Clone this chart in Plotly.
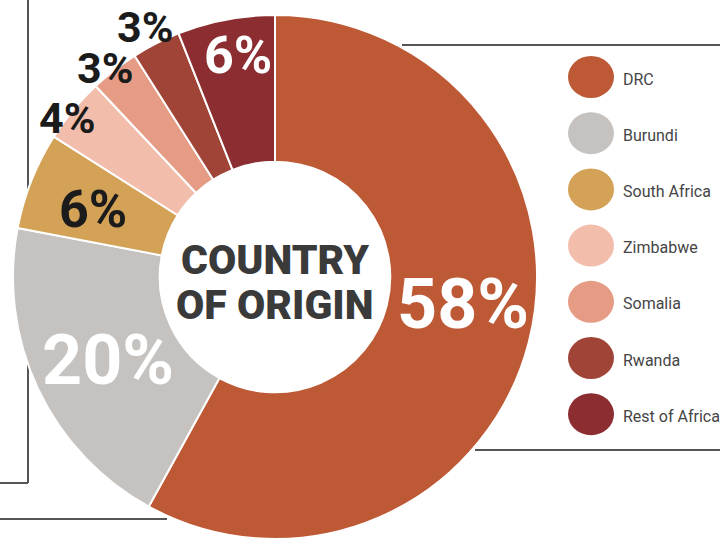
import math
import plotly.graph_objects as go

# Country of origin shares (percent)
countries = ["DRC", "Burundi", "South Africa", "Zimbabwe", "Somalia", "Rwanda", "Rest of Africa"]
shares = [58, 20, 6, 4, 3, 3, 6]
colors = ["#BD5A35", "#C5C2BF", "#D3A257", "#F3BDAC", "#E69C84", "#A04437", "#8C2D31"]

# Label styling per slice: radial position (fraction of outer radius),
# small angular nudge (deg), font size and colour
label_r = [0.725, 0.712, 0.741, 0.999, 1.027, 1.075, 0.859]
label_nudge = [-6.2, -1.2, -1.1, -2.2, -1.3, -0.5, 1.3]
label_size = [70, 70, 52, 43, 43, 43, 52]
label_color = ["#FFFFFF", "#FFFFFF", "#1B1B1B", "#1B1B1B", "#1B1B1B", "#1B1B1B", "#FFFFFF"]

W, H = 720, 539
CX, CY, R = 275, 277, 262
HOLE = 0.44

FONT = "Roboto, Liberation Sans, sans-serif"


def px_to_paper(x, y):
    return x / W, 1 - y / H


fig = go.Figure(
    go.Pie(
        labels=countries,
        values=shares,
        sort=False,
        direction="clockwise",
        rotation=0,
        hole=HOLE,
        marker=dict(colors=colors, line=dict(color="#FFFFFF", width=2)),
        textinfo="none",
        hoverinfo="label+percent",
        showlegend=False,
        domain=dict(x=[(CX - R) / W, (CX + R) / W], y=[max(0, 1 - (CY + R) / H), 1 - (CY - R) / H]),
    )
)

annotations = []
total = sum(shares)
cum = 0
for i, v in enumerate(shares):
    mid = (cum + v / 2) / total * 360 + label_nudge[i]
    cum += v
    th = math.radians(mid)
    px = CX + label_r[i] * R * math.sin(th)
    py = CY - label_r[i] * R * math.cos(th)
    xp, yp = px_to_paper(px, py)
    annotations.append(dict(
        x=xp, y=yp, xref="paper", yref="paper",
        text=f"{v}%", showarrow=False, xanchor="center", yanchor="middle",
        font=dict(family=FONT, size=label_size[i], color=label_color[i], weight="bold"),
    ))

# Centre title
for txt, ty in [("COUNTRY", 260), ("OF ORIGIN", 305)]:
    xp, yp = px_to_paper(CX, ty)
    annotations.append(dict(
        x=xp, y=yp, xref="paper", yref="paper", text=txt, showarrow=False,
        xanchor="center", yanchor="middle",
        font=dict(family=FONT, size=41, color="#3A3A3A", weight=900),
    ))

shapes = []
# Legend swatches and names
LEG_X, LEG_Y0, LEG_DY = 591, 77, 56.2
for i, (name, col) in enumerate(zip(countries, colors)):
    cy = LEG_Y0 + i * LEG_DY
    x0, y0 = px_to_paper(LEG_X - 23, cy + 21)
    x1, y1 = px_to_paper(LEG_X + 23, cy - 21)
    shapes.append(dict(type="circle", xref="paper", yref="paper", x0=x0, y0=y0, x1=x1, y1=y1,
                       fillcolor=col, line=dict(width=0)))
    xp, yp = px_to_paper(621, cy + 2)
    annotations.append(dict(
        x=xp, y=yp, xref="paper", yref="paper", text=name, showarrow=False,
        xanchor="left", yanchor="middle",
        font=dict(family=FONT, size=16, color="#454545"),
    ))

# Frame rules around the graphic
rules = [
    (28, 0, 28, 483),
    (0, 483, 28, 483),
    (0, 519, 167, 519),
    (402, 45, 720, 45),
    (475, 450, 720, 450),
]
for x0, y0, x1, y1 in rules:
    a, b = px_to_paper(x0, y0)
    c, d = px_to_paper(x1, y1)
    shapes.append(dict(type="line", xref="paper", yref="paper", x0=a, y0=b, x1=c, y1=d,
                       line=dict(color="#555555", width=2), layer="below"))

fig.update_layout(
    width=W, height=H,
    margin=dict(l=0, r=0, t=0, b=0),
    paper_bgcolor="#FFFFFF",
    plot_bgcolor="#FFFFFF",
    annotations=annotations,
    shapes=shapes,
)

fig.write_html("out.html")
